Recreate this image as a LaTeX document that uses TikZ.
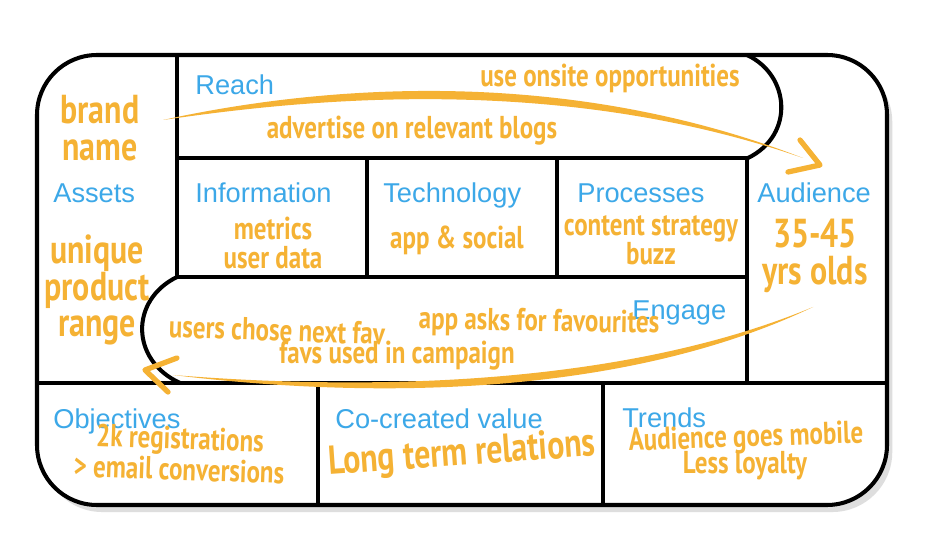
\documentclass[tikz,border=0pt]{standalone}
\usepackage{fontspec}
\setmainfont{Liberation Sans}
\newfontfamily\handfont[FakeStretch=0.79]{PT Sans}
\usetikzlibrary{shadows}
\definecolor{lblblue}{RGB}{60,168,232}
\definecolor{markorange}{RGB}{245,178,52}
\tikzset{
  canvas/.style={line width=2.3pt, draw=black, line join=round},
  lbl/.style={
    anchor=base west, text=lblblue, inner sep=0pt,
    font=\fontsize{15.5}{18}\selectfont
  },
  note/.style={
    text=markorange, align=center, inner sep=0pt,
    font=\handfont\bfseries\fontsize{18}{16.5}\selectfont
  },
  bignote/.style={
    text=markorange, align=center, inner sep=0pt,
    font=\handfont\bfseries\fontsize{23}{21}\selectfont
  },
  brush/.style={fill=markorange, draw=none},
  chevron/.style={draw=markorange, line width=3pt, line join=round, line cap=round},
}

\begin{document}
\begin{tikzpicture}[x=0.02cm, y=-0.02cm]
  \useasboundingbox (0,0) rectangle (927,557);
  \fill[white] (0,0) rectangle (927,557);
  \draw[canvas, fill=white, rounded corners=1.2cm,
    drop shadow={shadow xshift=3pt, shadow yshift=-4pt, fill=black!25}]
    (37,55) rectangle (887,505);
  % inner lines
  \draw[canvas] (177,55) -- (177,277);
  \draw[canvas] (177,158) -- (748,158);
  \draw[canvas] (747,55) .. controls (790,75) and (795,135) .. (748,158);
  \draw[canvas] (367,158) -- (367,277);
  \draw[canvas] (557,158) -- (557,277);
  \draw[canvas] (747,158) -- (747,383);
  \draw[canvas] (177,277) -- (747,277);
  \draw[canvas] (177,277) .. controls (130,300) and (130,360) .. (180,383);
  \draw[canvas] (37,383) -- (887,383);
  \draw[canvas] (318,383) -- (318,505);
  \draw[canvas] (603,383) -- (603,505);
  % block labels
  \foreach \nm/\px/\py/\txt in
    {reach/195/95/Reach, assets/53/203/Assets, info/195/203/Information,
     tech/383/203/Technology, proc/577/203/Processes, aud/757/203/Audience,
     engage/632/320/Engage, obj/53/428/Objectives,
     value/335/428/Co-created value, trends/622/427/Trends}{
    \node[lbl] (lbl-\nm) at (\px,\py) {\txt};
  }
  % brush strokes
  \fill[brush] (163,120) .. controls (300,90) and (550,60) .. (803,158)
    .. controls (555,72) and (300,100) .. (163,120);
  \draw[chevron] (800,140) -- (820,165) -- (788,172);
  \fill[brush] (813,307) .. controls (650,375) and (420,395) .. (173,375)
    .. controls (420,405) and (650,385) .. (813,307);
  \draw[chevron] (177,358) -- (145,370) -- (168,392);
  % notes
  \node[bignote] (brand) at (100,128) {brand\\name};
  \node[bignote] (range) at (97,290) {unique\\product\\range};
  \node[note] (onsite) at (610,78) {use onsite opportunities};
  \node[note] (blogs) at (412,131) {advertise on relevant blogs};
  \node[note] (metrics) at (273,243) {metrics\\user data};
  \node[note] (social) at (457,240) {app \& social};
  \node[note] (content) at (651,240) {content strategy\\buzz};
  \node[bignote] (age) at (815,256) {35-45\\yrs olds};
  \node[note, rotate=-2] (nextfav) at (277,330) {users chose next fav};
  \node[note, rotate=-1] (favs) at (539,323) {app asks for favourites};
  \node[note] (campaign) at (397,356) {favs used in campaign};
  \node[note, rotate=-2] (regs) at (180,441) {2k registrations};
  \node[note, rotate=-2] (conv) at (179,469) {> email conversions};
  \node[bignote, rotate=4] (relations) at (462,455) {Long term relations};
  \node[note, rotate=2] (mobile) at (746,439) {Audience goes mobile};
  \node[note] (loyalty) at (745,466) {Less loyalty};
\end{tikzpicture}
\end{document}
